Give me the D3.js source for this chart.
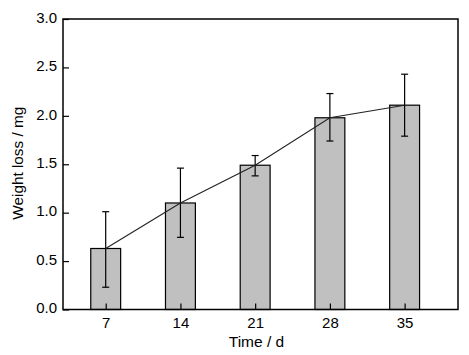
<!DOCTYPE html>
<html><head><meta charset="utf-8">
<script src="https://cdn.jsdelivr.net/npm/d3@7"></script>
<style>body{margin:0;background:#fff}svg{display:block}text{font-family:"Liberation Sans",Arial,sans-serif}</style>
</head><body><svg id="c" width="469" height="355"></svg>
<script>
const days = [7, 14, 21, 28, 35];
const means = [0.63, 1.10, 1.49, 1.98, 2.11];
const errUp = [1.01, 1.46, 1.59, 2.23, 2.43];
const errLo = [0.23, 0.745, 1.38, 1.74, 1.79];
const yTicks = [0, 0.5, 1.0, 1.5, 2.0, 2.5, 3.0];
const xLabel = "Time / d";
const yLabel = "Weight loss / mg";

const svg = d3.select("#c");
const L = 63, R = 458, T = 19, B = 309.5;
const x = d3.scaleLinear().domain([3, 40]).range([L, R]);
const y = d3.scaleLinear().domain([0, 3]).range([B, T]);
const bw = x(7 + 2.8) - x(7);

svg.append("g").selectAll("rect").data(days).join("rect")
  .attr("x", (d) => x(d) - bw / 2).attr("y", (d, i) => y(means[i]))
  .attr("width", bw).attr("height", (d, i) => B - y(means[i]))
  .attr("fill", "#c0c0c0").attr("stroke", "#000").attr("stroke-width", 1.2);

// error bars
const eb = svg.append("g").attr("stroke", "#000").attr("stroke-width", 1.2);
days.forEach((d, i) => {
  eb.append("line").attr("x1", x(d)).attr("x2", x(d)).attr("y1", y(errLo[i])).attr("y2", y(errUp[i]));
  eb.append("line").attr("x1", x(d) - 3.5).attr("x2", x(d) + 3.5).attr("y1", y(errLo[i])).attr("y2", y(errLo[i]));
  eb.append("line").attr("x1", x(d) - 3.5).attr("x2", x(d) + 3.5).attr("y1", y(errUp[i])).attr("y2", y(errUp[i]));
});

// connecting line
svg.append("path").datum(days)
  .attr("d", d3.line().x((d) => x(d)).y((d, i) => y(means[i])))
  .attr("fill", "none").attr("stroke", "#222").attr("stroke-width", 1.1);

// axes with inward ticks
const yAxis = svg.append("g").attr("transform", `translate(${L},0)`)
  .call(d3.axisRight(y).tickValues(yTicks).tickFormat(d3.format(".1f")).tickSize(6).tickSizeOuter(0));
yAxis.select(".domain").remove();
yAxis.selectAll("text").attr("x", -6).attr("dy", "0.22em").attr("text-anchor", "end").attr("font-size", 15).attr("fill", "#000")
  .attr("font-family", "Liberation Sans, Arial, sans-serif");
yAxis.selectAll("line").attr("stroke", "#000").attr("stroke-width", 1.2);

const xAxis = svg.append("g").attr("transform", `translate(0,${B})`)
  .call(d3.axisTop(x).tickValues(days).tickFormat(d3.format("d")).tickSize(6).tickSizeOuter(0));
xAxis.select(".domain").remove();
xAxis.selectAll("text").attr("y", 18).attr("dy", null).attr("font-size", 15).attr("fill", "#000")
  .attr("font-family", "Liberation Sans, Arial, sans-serif");
xAxis.selectAll("line").attr("stroke", "#000").attr("stroke-width", 1.2);

// frame
svg.append("rect").attr("x", L).attr("y", T).attr("width", R - L).attr("height", B - T)
  .attr("fill", "none").attr("stroke", "#000").attr("stroke-width", 1.5);

svg.append("text").attr("x", 256.5).attr("y", 346.5).attr("text-anchor", "middle")
  .attr("font-size", 15.5).text(xLabel);
svg.append("text").attr("transform", `translate(23,${(T + B) / 2 - 1}) rotate(-90)`)
  .attr("text-anchor", "middle").attr("font-size", 15.3).text(yLabel);
</script></body></html>
